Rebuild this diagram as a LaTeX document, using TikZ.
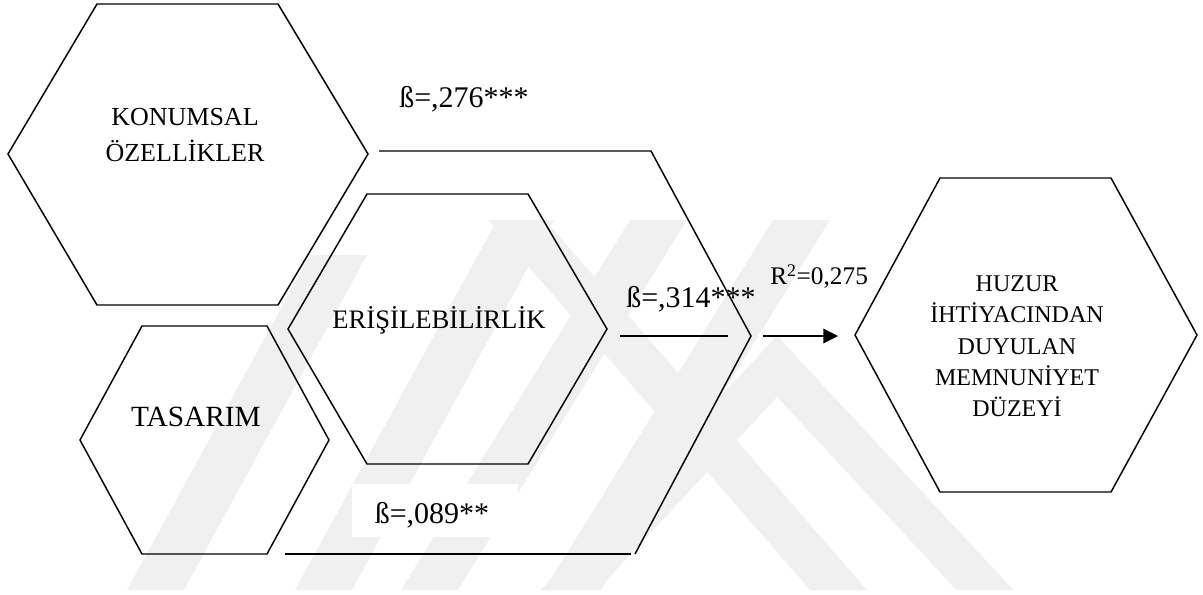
\documentclass[tikz,border=0pt]{standalone}
\usepackage{fontspec}
\setmainfont{Liberation Serif}
\usetikzlibrary{arrows.meta}
\begin{document}
\begin{tikzpicture}[x=0.75pt,y=-0.75pt,
  hexline/.style={line width=1.1pt, line join=miter},
  conn/.style={line width=1.1pt},
  wm/.style={fill=black!6, draw=none},
  txtA/.style={font=\fontsize{19.5}{23}\selectfont, inner sep=0pt, anchor=base},
  txtB/.style={font=\fontsize{20}{24}\selectfont, inner sep=0pt, anchor=base},
  txtC/.style={font=\fontsize{22}{26}\selectfont, inner sep=0pt, anchor=base},
  txtD/.style={font=\fontsize{18}{22}\selectfont, inner sep=0pt, anchor=base},
  coef/.style={font=\fontsize{22.5}{26}\selectfont, inner sep=0pt, anchor=base},
  rsq/.style={font=\fontsize{19}{23}\selectfont, inner sep=0pt, anchor=base west}
]
\useasboundingbox (0,0) rectangle (1203,594);

% faint watermark
\fill[wm] (310,255) -- (367,255) -- (184,590) -- (127,590) -- cycle;
\fill[wm] (497,220) -- (554,220) -- (352,590) -- (295,590) -- cycle;
\fill[wm] (630,220) -- (687,220) -- (458,590) -- (401,590) -- cycle;
\fill[wm] (773,220) -- (830,220) -- (601,590) -- (544,590) -- cycle;
\fill[wm] (488,220) -- (545,220) -- (867,590) -- (810,590) -- cycle;
\fill[wm] (777,335.7) -- (1013.5,590) -- (956.5,590) -- (777,397) -- (597.5,590) -- (540.5,590) -- cycle;

% hexagons
\draw[hexline] (8,154) -- (97,4) -- (278,4) -- (368,154) -- (278,305) -- (97,305) -- cycle;
\draw[hexline] (288,329) -- (367,194) -- (528,194) -- (607,329) -- (528,464) -- (367,464) -- cycle;
\draw[hexline] (80,440) -- (142,326) -- (267,326) -- (329,440) -- (267,554) -- (142,554) -- cycle;
\draw[hexline] (855,335) -- (940,178) -- (1111,178) -- (1197,335) -- (1111,492) -- (940,492) -- cycle;

% hexagon texts
\node[txtA] (k1) at (185,125.6) {KONUMSAL};
\node[txtA] (k2) at (185,161.6) {ÖZELLİKLER};
\node[txtB] (er) at (439,328.8) {ERİŞİLEBİLİRLİK};
\node[txtC] (ts) at (196,426.7) {TASARIM};
\node[txtD] (h1) at (1017,291) {HUZUR};
\node[txtD] (h2) at (1017,322) {İHTİYACINDAN};
\node[txtD] (h3) at (1017,354) {DUYULAN};
\node[txtD] (h4) at (1017,385) {MEMNUNİYET};
\node[txtD] (h5) at (1017,416) {DÜZEYİ};

% connector points
\coordinate (ta) at (379,151);
\coordinate (tb) at (651,151);
\coordinate (tv) at (751,336);
\coordinate (tc) at (635,554);
\coordinate (ba) at (285,554);
\coordinate (bb) at (631,554);
\coordinate (ma) at (620,336);
\coordinate (mb) at (728,336);
\coordinate (aa) at (763,336);
\coordinate (ab) at (838,336);

\draw[conn, line join=miter] (ta) -- (tb) -- (tv) -- (tc);
\draw[conn] (ba) -- (bb);
\draw[conn] (ma) -- (mb);
\draw[conn, -{Triangle[length=11pt,width=11pt]}] (aa) -- (ab);

% coefficient labels
\node[coef] (c1) at (464,107) {ß=,276***};
\node[coef] (c2) at (691,307) {ß=,314***};
\node[fill=white, inner sep=0pt, minimum width=124.5pt, minimum height=39.75pt] (c3box) at (435,510.5) {};
\node[coef] (c3) at (432,523) {ß=,089**};
\node[rsq] (r2) at (770,284.4) {R\textsuperscript{2}=0,275};
\end{tikzpicture}
\end{document}
